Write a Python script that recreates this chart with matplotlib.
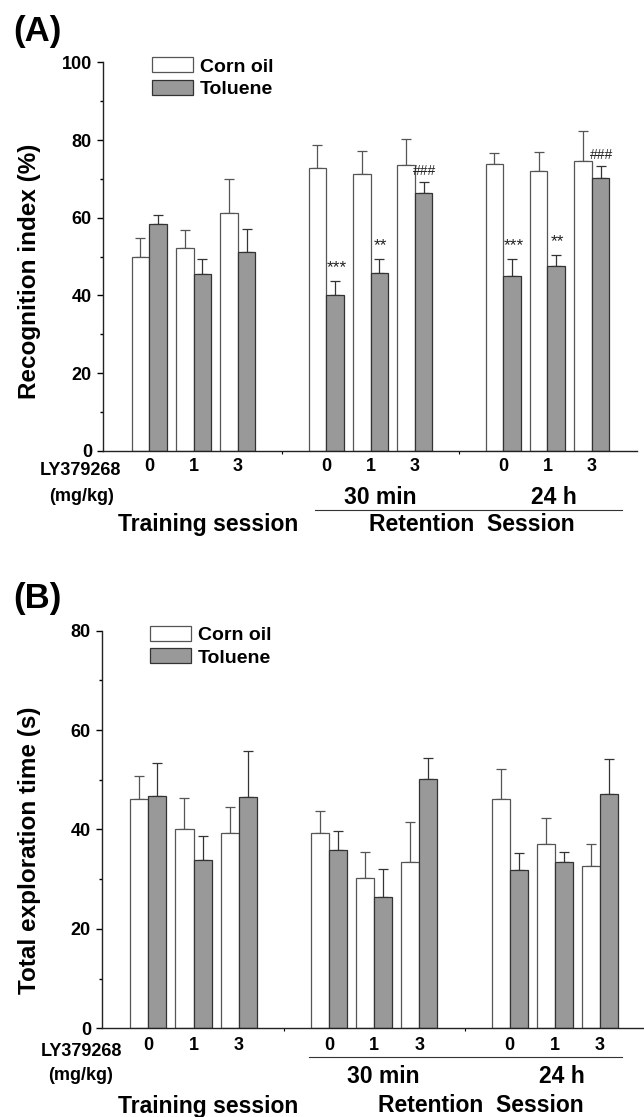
import numpy as np
import matplotlib
matplotlib.use('Agg')
import matplotlib.pyplot as plt
from matplotlib import transforms

plt.rcParams['font.family'] = ['Liberation Sans', 'DejaVu Sans']
plt.rcParams['font.weight'] = 'bold'

doses = ['0', '1', '3']
pos = [0, 1, 2, 4, 5, 6, 8, 9, 10]   # training, 30 min, 24 h
series = ['Corn oil', 'Toluene']

# (A) recognition index (%)
ri_oil = [50.0, 52.1, 61.3, 72.7, 71.2, 73.6, 73.9, 72.1, 74.7]
ri_oil_err = [4.7, 4.7, 8.6, 6.0, 6.0, 6.7, 2.7, 4.7, 7.7]
ri_tol = [58.5, 45.4, 51.1, 40.2, 45.8, 66.3, 45.1, 47.5, 70.1]
ri_tol_err = [2.3, 3.9, 6.0, 3.5, 3.5, 3.0, 4.2, 2.9, 3.2]
ri_marks = ['', '', '', '***', '**', '###', '***', '**', '###']

# (B) total exploration time (s)
et_oil = [46.1, 40.0, 39.2, 39.2, 30.2, 33.5, 46.1, 37.0, 32.7]
et_oil_err = [4.7, 6.3, 5.4, 4.5, 5.3, 8.0, 6.1, 5.3, 4.4]
et_tol = [46.7, 33.8, 46.5, 35.8, 26.4, 50.2, 31.9, 33.4, 47.1]
et_tol_err = [6.7, 4.9, 9.2, 3.9, 5.7, 4.2, 3.3, 2.1, 7.1]

W = 0.4


def draw_panel(ax, oil, oil_err, tol, tol_err, ymax, xlim, ylabel, ylab_xy,
               leg_xy, tick_pad, marks=None):
    x = np.array(pos, float)
    zero = np.zeros(len(x))
    ax.bar(x - W/2, oil, W, color='white', edgecolor='#555555', linewidth=0.9,
           label=series[0], zorder=2)
    ax.bar(x + W/2, tol, W, color='#999999', edgecolor='#333333', linewidth=0.9,
           label=series[1], zorder=2)
    ax.errorbar(x - W/2, oil, yerr=[zero, oil_err], fmt='none', ecolor='#555555',
                elinewidth=0.9, capsize=3.5, capthick=0.9, zorder=1)
    ax.errorbar(x + W/2, tol, yerr=[zero, tol_err], fmt='none', ecolor='#333333',
                elinewidth=0.9, capsize=3.5, capthick=0.9, zorder=1)
    if marks:
        for xi, m, t, e in zip(x, marks, tol, tol_err):
            if m:
                if m.startswith('#'):
                    ax.text(xi + W/2 + 0.03, t + e + 1.8, m, ha='center',
                            va='baseline', fontsize=10, fontweight='normal',
                            color='#222222')
                else:
                    ax.text(xi + W/2 + 0.03, t + e + 2.3, m, ha='center',
                            va='baseline', fontsize=12.5, fontweight='normal',
                            color='#222222')

    ax.set_xlim(*xlim)
    ax.set_ylim(0, ymax)
    for s in ['top', 'right']:
        ax.spines[s].set_visible(False)
    for s in ['left', 'bottom']:
        ax.spines[s].set_linewidth(1.0)
        ax.spines[s].set_color('#222222')
    ax.set_xticks(pos)
    ax.set_xticklabels(doses * 3)
    ax.set_xticks([3, 7], minor=True)
    ax.tick_params(axis='x', which='major', length=0, pad=tick_pad, labelsize=13)
    ax.tick_params(axis='x', which='minor', length=2.5, width=0.8, direction='out')
    ax.set_yticks(np.arange(0, ymax + 1, 20))
    ax.set_yticks(np.arange(10, ymax, 20), minor=True)
    ax.tick_params(axis='y', which='major', length=4, width=1.0, pad=4.2, labelsize=13)
    ax.tick_params(axis='y', which='minor', length=2, width=1.0)

    ax.set_ylabel(ylabel, fontsize=17.5, fontweight='bold')
    ax.yaxis.label.set_verticalalignment('center')
    ax.yaxis.set_label_coords(*ylab_xy)

    ax.legend(loc='upper left', bbox_to_anchor=leg_xy, frameon=False,
              fontsize=14, handlelength=2.14, handleheight=0.8,
              handletextpad=0.35, labelspacing=0.21, borderpad=0,
              borderaxespad=0)


def add_text(ax, x, y, s, size, ha='center'):
    tr = transforms.blended_transform_factory(ax.transData, ax.transAxes)
    ax.text(x, y, s, transform=tr, ha=ha, va='center', fontsize=size,
            fontweight='bold', clip_on=False)


def add_line(ax, x0, x1, y):
    tr = transforms.blended_transform_factory(ax.transData, ax.transAxes)
    ax.plot([x0, x1], [y, y], transform=tr, color='#333333', lw=0.8, clip_on=False)


fig = plt.figure(figsize=(6.44, 11.17), dpi=100)

# ---- (A)
axA = fig.add_axes([0.1604, 0.5965, 0.8292, 0.3477])
draw_panel(axA, ri_oil, ri_oil_err, ri_tol, ri_tol_err, 100, (-1.04, 11.03),
           'Recognition index (%)', (-0.138, 0.463), (0.0906, 1.0127), 5.5,
           marks=ri_marks)
add_text(axA, -1.55, -0.050, 'LY379268', 13)
add_text(axA, -1.54, -0.117, '(mg/kg)', 13)
add_text(axA, 5.21, -0.120, '30 min', 16.5)
add_text(axA, 9.14, -0.120, '24 h', 16.5)
add_line(axA, 3.74, 10.68, -0.1527)
add_text(axA, 1.33, -0.189, 'Training session', 16.5)
add_text(axA, 7.29, -0.189, 'Retention  Session', 16.5)
fig.text(37/644, 1 - 32/1117, '(A)', fontsize=25, fontweight='bold',
         ha='center', va='center')

# ---- (B)
axB = fig.add_axes([0.1588, 0.0794, 0.8411, 0.3560])
draw_panel(axB, et_oil, et_oil_err, et_tol, et_tol_err, 80, (-1.02, 10.97),
           'Total exploration time (s)', (-0.134, 0.448), (0.0878, 1.0113), 6.1)
add_text(axB, -1.49, -0.059, 'LY379268', 13)
add_text(axB, -1.49, -0.1175, '(mg/kg)', 13)
add_line(axB, 3.56, 10.48, -0.0714)
add_text(axB, 5.19, -0.1217, '30 min', 16.5)
add_text(axB, 9.15, -0.1217, '24 h', 16.5)
add_text(axB, 1.32, -0.197, 'Training session', 16.5)
add_text(axB, 7.35, -0.193, 'Retention  Session', 16.5)
fig.text(37/644, 1 - 598/1117, '(B)', fontsize=25, fontweight='bold',
         ha='center', va='center')

fig.savefig('out.png', dpi=100)
